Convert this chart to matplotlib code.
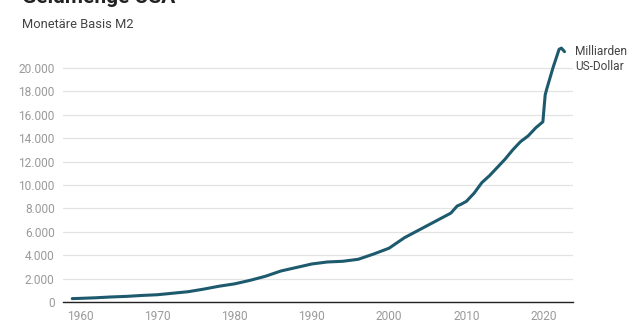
import numpy as np
import matplotlib.pyplot as plt
from matplotlib.ticker import FuncFormatter

# M2 money stock, billions USD
years = [1959, 1960, 1962, 1964, 1966, 1968, 1970, 1972, 1974, 1976, 1978,
         1980, 1982, 1984, 1986, 1988, 1990, 1992, 1994, 1996, 1998,
         2000, 2002, 2004, 2006, 2008, 2008.8, 2009.3, 2010, 2011, 2012,
         2013, 2014, 2015, 2016, 2017, 2018, 2019, 2019.9, 2020.2, 2020.4,
         2020.8, 2021.2, 2021.6, 2022.0, 2022.3, 2022.7]
m2 = [290, 310, 360, 430, 480, 560, 620, 750, 880, 1100, 1350,
      1550, 1850, 2200, 2650, 2950, 3250, 3420, 3480, 3650, 4100,
      4600, 5500, 6200, 6900, 7600, 8200, 8350, 8600, 9300, 10200,
      10800, 11500, 12200, 13000, 13700, 14200, 14900, 15400, 17700, 18200,
      19100, 20000, 20800, 21600, 21700, 21400]

yticks = np.arange(0, 20001, 2000)
xticks = np.arange(1960, 2021, 10)

plt.rcParams['font.family'] = ['Roboto', 'DejaVu Sans']

fig = plt.figure(figsize=(6.4, 3.34), dpi=100)
ax = fig.add_axes([63 / 640, 1 - 302 / 334, 510 / 640, 257.4 / 334])

ax.plot(years, m2, color="#1d5a6e", linewidth=2.2, solid_capstyle="round",
        solid_joinstyle="round", zorder=3)

ax.set_xlim(1957.8, 2023.8)
ax.set_ylim(0, 22000)
ax.set_yticks(yticks)
ax.set_xticks(xticks)
ax.yaxis.set_major_formatter(FuncFormatter(lambda v, p: f"{int(v):,}".replace(",", ".")))

ax.grid(True, axis="y", color="#e3e3e3", linewidth=0.9)
ax.set_axisbelow(True)
for s in ["top", "right", "left"]:
    ax.spines[s].set_visible(False)
ax.spines["bottom"].set_color("#222222")
ax.spines["bottom"].set_linewidth(1.0)
ax.tick_params(axis="both", length=0, labelsize=8.6, labelcolor="#9a9a9a")
ax.tick_params(axis="y", pad=6)
ax.tick_params(axis="x", pad=6)

# title (cut off at the top edge, as in the original) and subtitle
fig.text(22 / 640, 1 - 3 / 334, "Geldmenge USA", fontsize=15, fontweight="bold",
         color="#222222", va="baseline", ha="left")
fig.text(22 / 640, 1 - 25 / 334, "Monetäre Basis M2", fontsize=9.3, color="#444444",
         va="center", ha="left")

fig.text(575 / 640, 1 - 59 / 334, "Milliarden\nUS-Dollar", fontsize=8.6,
         color="#444444", va="center", ha="left", linespacing=1.15)

plt.savefig("out.png", dpi=100)
